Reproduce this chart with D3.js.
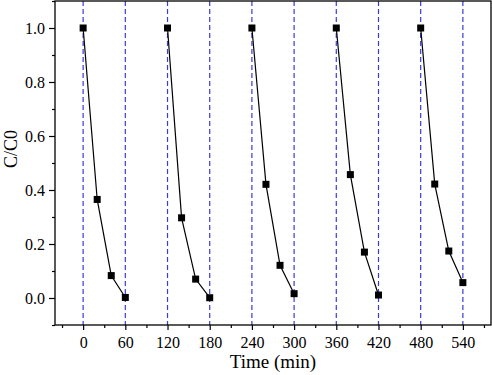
<!DOCTYPE html>
<html>
<head>
<meta charset="UTF-8">
<script src="https://d3js.org/d3.v7.min.js"></script>
<style>
  body { margin: 0; background: #fff; }
  svg { display: block; }
  svg text { font-family: "Liberation Serif", "Times New Roman", serif; fill: #000; }
</style>
</head>
<body>
<svg width="492" height="375"></svg>
<script>
const width = 492, height = 375;
const margin = { top: 1, right: 1, bottom: 50, left: 55 };

// degradation runs: time (min) and C/C0
const times = [0, 20, 40, 60, 120, 140, 160, 180, 240, 260, 280, 300, 360, 380, 400, 420, 480, 500, 520, 540];
const ratios = [1.0, 0.365, 0.083, 0.002, 1.0, 0.297, 0.070, 0.001, 1.0, 0.421, 0.121, 0.016, 1.0, 0.457, 0.170, 0.011, 1.0, 0.422, 0.174, 0.057];
const cycleOf = [0, 0, 0, 0, 1, 1, 1, 1, 2, 2, 2, 2, 3, 3, 3, 3, 4, 4, 4, 4];
const dashTimes = [0, 60, 120, 180, 240, 300, 360, 420, 480, 540];
const xTicks = [0, 60, 120, 180, 240, 300, 360, 420, 480, 540];
const xMinor = [-30, 30, 90, 150, 210, 270, 330, 390, 450, 510, 570];
const yTicks = [0.0, 0.2, 0.4, 0.6, 0.8, 1.0];
const yMinor = [-0.1, 0.1, 0.3, 0.5, 0.7, 0.9, 1.1];

const svg = d3.select("svg");
const x = d3.scaleLinear().domain([-40, 580]).range([margin.left, width - margin.right]);
const y = d3.scaleLinear().domain([-0.1, 1.1]).range([height - margin.bottom, margin.top]);

// dashed separators
svg.selectAll("line.sep")
  .data(dashTimes)
  .enter().append("line")
  .attr("class", "sep")
  .attr("x1", d => x(d)).attr("x2", d => x(d))
  .attr("y1", y(1.1)).attr("y2", y(-0.1))
  .attr("stroke", "#3a3ae0")
  .attr("stroke-width", 1.2)
  .attr("stroke-dasharray", "5,3");

// frame
svg.append("rect")
  .attr("x", x(-40)).attr("y", y(1.1))
  .attr("width", x(580) - x(-40)).attr("height", y(-0.1) - y(1.1))
  .attr("fill", "none").attr("stroke", "#000").attr("stroke-width", 1.3);

function styleAxis(g) {
  g.selectAll(".domain").remove();
  g.attr("font-family", null);
  g.selectAll("text").attr("font-size", 16);
  g.selectAll("line").attr("stroke", "#000").attr("stroke-width", 1.2);
}

// axes (minor and major in separate groups)
svg.append("g").attr("transform", `translate(0,${y(-0.1)})`)
  .call(d3.axisBottom(x).tickValues(xMinor).tickSize(3).tickFormat(""))
  .call(styleAxis);
svg.append("g").attr("transform", `translate(0,${y(-0.1)})`)
  .call(d3.axisBottom(x).tickValues(xTicks).tickSize(5).tickPadding(7).tickFormat(d3.format("d")))
  .call(styleAxis);

svg.append("g").attr("transform", `translate(${x(-40)},0)`)
  .call(d3.axisLeft(y).tickValues(yMinor).tickSize(3).tickFormat(""))
  .call(styleAxis);
svg.append("g").attr("transform", `translate(${x(-40)},0)`)
  .call(d3.axisLeft(y).tickValues(yTicks).tickSize(6).tickPadding(4).tickFormat(d3.format(".1f")))
  .call(styleAxis);

// lines per cycle
const points = times.map((t, i) => ({ t: t, v: ratios[i], c: cycleOf[i] }));
const groups = d3.groups(points, d => d.c);
const line = d3.line().x(d => x(d.t)).y(d => y(d.v));
svg.selectAll("path.run")
  .data(groups)
  .enter().append("path")
  .attr("class", "run")
  .attr("d", d => line(d[1]))
  .attr("fill", "none")
  .attr("stroke", "#000")
  .attr("stroke-width", 1.2);

svg.selectAll("rect.pt")
  .data(points)
  .enter().append("rect")
  .attr("class", "pt")
  .attr("x", d => x(d.t) - 3.5).attr("y", d => y(d.v) - 3.5)
  .attr("width", 7).attr("height", 7)
  .attr("fill", "#000");

// titles
svg.append("text")
  .attr("x", (x(-40) + x(580)) / 2).attr("y", 368)
  .attr("text-anchor", "middle").attr("font-size", 19)
  .text("Time (min)");
svg.append("text")
  .attr("transform", "translate(17,149) rotate(-90)")
  .attr("text-anchor", "middle").attr("font-size", 18)
  .text("C/C0");
</script>
</body>
</html>
